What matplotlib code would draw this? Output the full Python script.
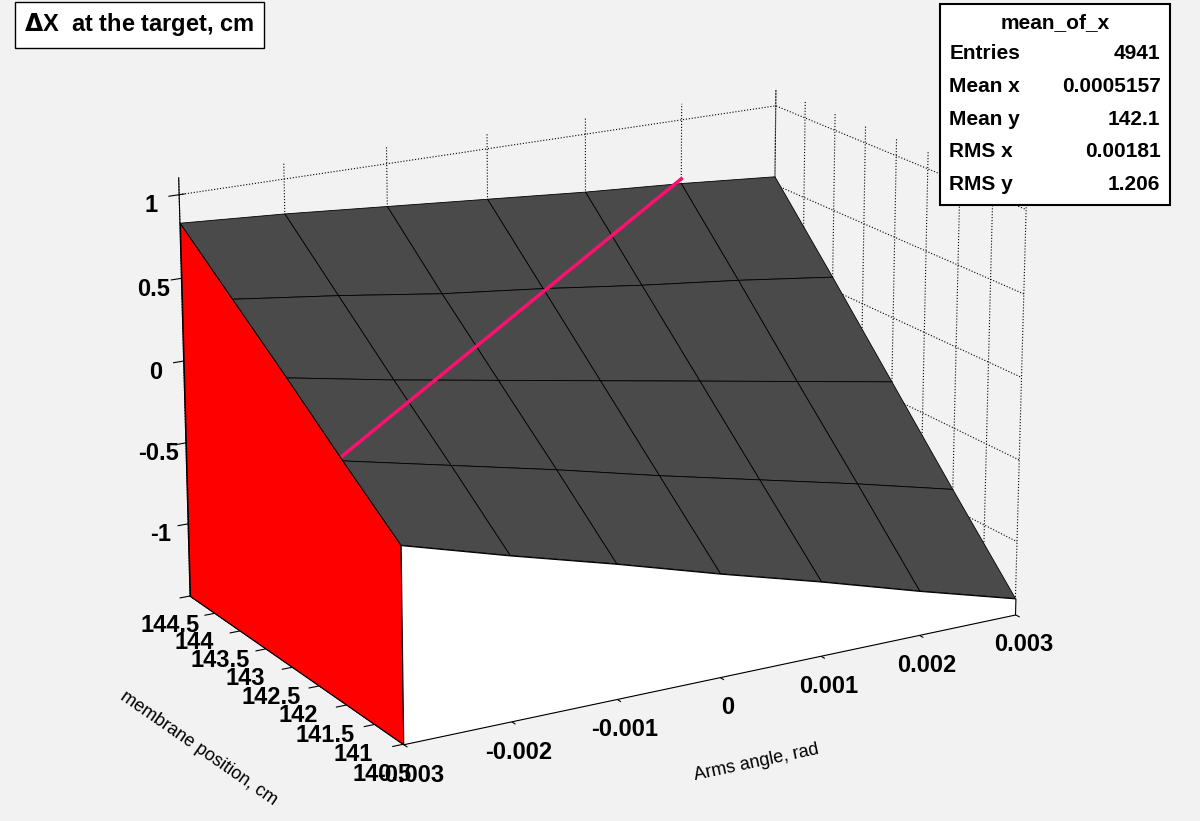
import numpy as np
import matplotlib
matplotlib.use("Agg")
import matplotlib.pyplot as plt
from mpl_toolkits.mplot3d.art3d import Poly3DCollection

angle = [-0.003, -0.002, -0.001, 0.0, 0.001, 0.002, 0.003]
membrane = [140.5, 141.5, 142.5, 143.5, 144.5]
dx = [
    [-0.30, -0.48, -0.65, -0.83, -1.00, -1.18, -1.35],
    [-0.02, -0.16, -0.30, -0.45, -0.59, -0.73, -0.88],
    [0.27, 0.15, 0.04, -0.07, -0.18, -0.29, -0.40],
    [0.55, 0.47, 0.38, 0.31, 0.23, 0.16, 0.08],
    [0.83, 0.79, 0.74, 0.69, 0.64, 0.60, 0.55],
]
line_angle = [-0.003, 0.002]
line_y = [141.5, 144.5]
zmin, zmax = -1.45, 1.1

plt.rcParams['font.family'] = ['Liberation Sans', 'DejaVu Sans']
plt.rcParams['font.weight'] = 'bold'
fig = plt.figure(figsize=(12, 8.21), dpi=100)
fig.patch.set_facecolor('#f2f2f2')
ax = fig.add_axes([-0.06, -0.06, 1.1, 1.12], projection='3d')
ax.set_facecolor('#f2f2f2')
X, Y = np.meshgrid(angle, membrane)
Z = np.array(dx)
ax.plot_surface(X, Y, Z, color='#4a4a4a', edgecolor='black', linewidth=0.6, shade=False)
left = [(angle[0], y, zmin) for y in membrane] + [(angle[0], y, z) for y, z in zip(membrane[::-1], Z[::-1, 0])]
front = [(x, membrane[0], zmin) for x in angle] + [(x, membrane[0], z) for x, z in zip(angle[::-1], Z[0, ::-1])]
ax.add_collection3d(Poly3DCollection([left], facecolor='red', edgecolor='black', linewidth=0.8))
ax.add_collection3d(Poly3DCollection([front], facecolor='white', edgecolor='black', linewidth=0.8))

def surf_z(xv, yv):
    col = [np.interp(xv, angle, r) for r in dx]
    return np.interp(yv, membrane, col)

lz = [surf_z(xv, yv) + 0.03 for xv, yv in zip(line_angle, line_y)]
ax.plot(line_angle, line_y, lz, color='#ff1070', lw=2.5, zorder=10)
ax.set_xlim(-0.003, 0.003); ax.set_ylim(140.5, 144.5); ax.set_zlim(zmin, zmax)
ax.view_init(elev=18, azim=-120)
for p in (ax.xaxis, ax.yaxis, ax.zaxis):
    p.set_pane_color((0.95, 0.95, 0.95, 1))
    p._axinfo['grid'].update(color='black', linestyle=':', linewidth=0.8)
ax.set_xticks([-0.003, -0.002, -0.001, 0, 0.001, 0.002, 0.003])
ax.set_xticklabels(['-0.003', '-0.002', '-0.001', '0', '0.001', '0.002', '0.003'])
ax.set_yticks(np.arange(140.5, 144.6, 0.5))
ax.set_yticklabels(['140.5', '141', '141.5', '142', '142.5', '143', '143.5', '144', '144.5'])
ax.set_zticks([-1, -0.5, 0, 0.5, 1])
ax.set_zticklabels(['-1', '-0.5', '0', '0.5', '1'])
ax.tick_params(labelsize=17)
ax.set_xlabel('Arms angle, rad', fontsize=13, labelpad=30)
ax.set_ylabel('membrane position, cm', fontsize=13, labelpad=30)
ax.set_box_aspect((1.5, 1.0, 0.95))
fig.text(0.02, 0.962, '$\\Delta$X  at the target, cm', fontsize=17, fontweight='bold',
         bbox=dict(facecolor='white', edgecolor='black', boxstyle='square,pad=0.4'))
stats = [('Entries', '4941'), ('Mean x', '0.0005157'), ('Mean y', '142.1'),
         ('RMS x', '0.00181'), ('RMS y', '1.206')]
x0, x1, ytop = 0.783, 0.975, 0.995
fig.patches.append(plt.Rectangle((x0, 0.75), x1 - x0, ytop - 0.75, transform=fig.transFigure,
                                 facecolor='white', edgecolor='black', lw=1.5))
fig.text((x0 + x1) / 2, 0.972, 'mean_of_x', ha='center', va='center', fontsize=15, fontweight='bold')
for i, (k, v) in enumerate(stats):
    yy = 0.935 - i * 0.04
    fig.text(x0 + 0.008, yy, k, va='center', fontsize=15, fontweight='bold')
    fig.text(x1 - 0.008, yy, v, va='center', ha='right', fontsize=15, fontweight='bold')
fig.savefig('out.png', dpi=100, facecolor=fig.get_facecolor())
